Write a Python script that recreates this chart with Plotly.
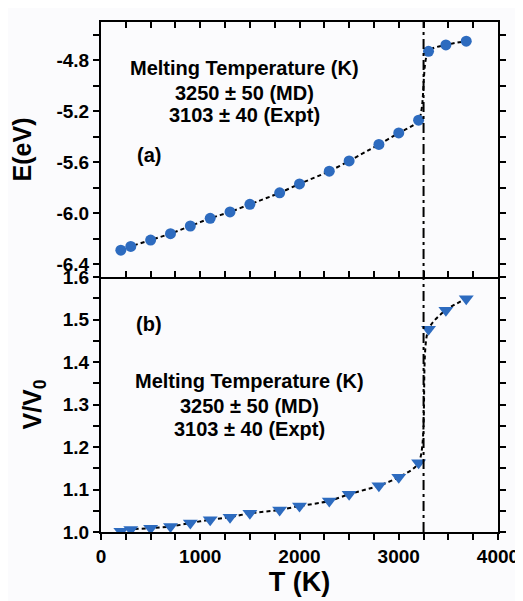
import plotly.graph_objects as go

# ---- data ----
T_K = [200, 300, 500, 700, 900, 1100, 1300, 1500, 1800, 2000, 2300, 2500,
       2800, 3000, 3200, 3300, 3475, 3680]
E_eV = [-6.29, -6.26, -6.21, -6.16, -6.10, -6.04, -5.99, -5.93, -5.84, -5.77,
        -5.67, -5.59, -5.46, -5.37, -5.27, -4.73, -4.68, -4.65]
V_V0 = [1.002, 1.006, 1.009, 1.013, 1.021, 1.029, 1.035, 1.044, 1.052, 1.061,
        1.073, 1.089, 1.109, 1.129, 1.163, 1.477, 1.522, 1.549]
T_melt = 3250
note_lines = ["Melting Temperature (K)", "3250 ± 50 (MD)", "3103 ± 40 (Expt)"]

# tick positions / labels
x_ticks = [0, 250, 500, 750, 1000, 1250, 1500, 1750, 2000, 2250, 2500, 2750,
           3000, 3250, 3500, 3750, 4000]
x_labels = ["0", "", "", "", "1000", "", "", "", "2000", "", "", "",
            "3000", "", "", "", "4000"]
ya_ticks = [-6.4, -6.2, -6.0, -5.8, -5.6, -5.4, -5.2, -5.0, -4.8, -4.6]
ya_labels = ["-6.4", "", "-6.0", "", "-5.6", "", "-5.2", "", "-4.8", ""]
yb_ticks = [1.0, 1.05, 1.1, 1.15, 1.2, 1.25, 1.3, 1.35, 1.4, 1.45, 1.5, 1.55, 1.6]
yb_labels = ["1.0", "", "1.1", "", "1.2", "", "1.3", "", "1.4", "", "1.5", "", "1.6"]


def bold(labels):
    return ["<b>" + s + "</b>" if s else "" for s in labels]


FONT = "Liberation Sans, Arial, sans-serif"
BLUE = "#2d6bbf"
BG = "#fbfbfd"

fig = go.Figure()
line_style = dict(color="black", width=2, dash="4px,3px", shape="spline", smoothing=0.8)
fig.add_trace(go.Scatter(x=T_K, y=E_eV, xaxis="x2", yaxis="y", mode="lines+markers",
                         line=line_style,
                         marker=dict(symbol="circle", size=11, color=BLUE)))
fig.add_trace(go.Scatter(x=T_K, y=V_V0, xaxis="x", yaxis="y2", mode="lines+markers",
                         line=line_style,
                         marker=dict(symbol="triangle-down", size=13, color=BLUE)))

tickfont = dict(family=FONT, size=19, color="black")
base = dict(showgrid=False, zeroline=False, tickcolor="black", tickwidth=2,
            showline=True, linecolor="black", linewidth=2)
XR = [0, 4000]
YA = [-6.5, -4.5]
YB = [1.0, 1.6]

fig.update_layout(
    width=515, height=593,
    margin=dict(l=93, r=24, t=4, b=69),
    paper_bgcolor=BG, plot_bgcolor=BG,
    showlegend=False,
    font=dict(family=FONT, color="black"),
    xaxis=dict(domain=[0, 1], anchor="y2", range=XR, tickvals=x_ticks, ticktext=bold(x_labels),
               ticks="outside", ticklen=6, tickfont=tickfont, mirror=False,
               title=dict(text="<b>T (K)</b>", font=dict(family=FONT, size=27), standoff=6),
               **base),
    xaxis2=dict(domain=[0, 1], anchor="y", side="top", range=XR, tickvals=x_ticks,
                ticks="inside", ticklen=6, mirror="ticks", showticklabels=False, **base),
    yaxis=dict(domain=[0.5, 1], anchor="x2", range=YA, tickvals=ya_ticks, ticktext=bold(ya_labels),
               ticks="outside", ticklen=6, tickfont=tickfont, mirror="ticks",
               title=dict(text="<b>E(eV)</b>", font=dict(family=FONT, size=25), standoff=20),
               **base),
    yaxis2=dict(domain=[0, 0.5], anchor="x", range=YB, tickvals=yb_ticks, ticktext=bold(yb_labels),
                ticks="outside", ticklen=6, tickfont=tickfont, mirror="ticks",
                title=dict(text="<b>V/V<sub>0</sub></b>", font=dict(family=FONT, size=25), standoff=14),
                **base),
)

fig.add_shape(type="line", xref="x", yref="paper", x0=T_melt, x1=T_melt, y0=0, y1=1,
              line=dict(color="black", width=2, dash="10px,4px,3px,4px"))

afont = dict(family=FONT, size=20, color="black")
for xs, ys in [(0.362, [0.9096, 0.8615, 0.8173]), (0.374, [0.296, 0.248, 0.202])]:
    for txt, yy in zip(note_lines, ys):
        fig.add_annotation(x=xs, y=yy, xref="paper", yref="paper", text="<b>" + txt + "</b>",
                           showarrow=False, font=afont, xanchor="center", yanchor="middle")
fig.add_annotation(x=0.1206, y=0.740, xref="paper", yref="paper", text="<b>(a)</b>",
                   showarrow=False, font=afont, xanchor="center", yanchor="middle")
fig.add_annotation(x=0.1206, y=0.4077, xref="paper", yref="paper", text="<b>(b)</b>",
                   showarrow=False, font=afont, xanchor="center", yanchor="middle")

fig.write_html("out.html")
